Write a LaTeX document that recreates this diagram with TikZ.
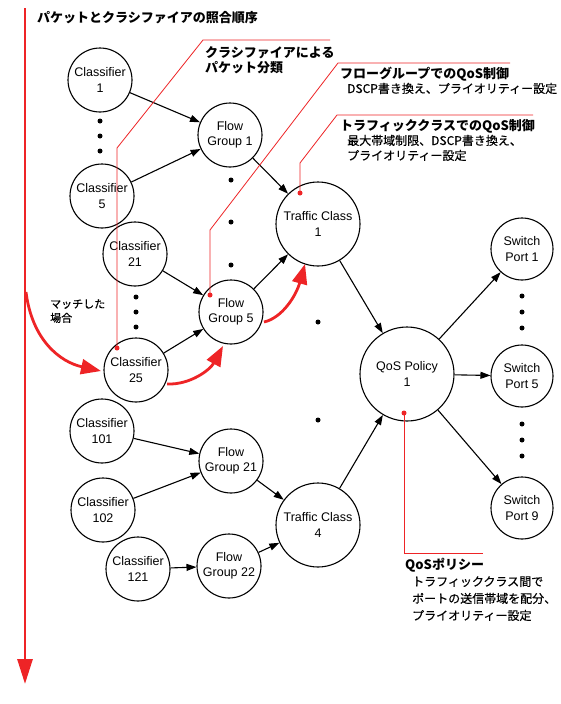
\documentclass[tikz,border=0pt]{standalone}
\usepackage{fontspec}
\setmainfont{Liberation Sans}
\newfontfamily\jp{Noto Sans CJK JP}
\newfontfamily\jpm[FakeBold=0.4]{Noto Sans CJK JP}
\usetikzlibrary{arrows.meta}
\definecolor{cred}{RGB}{238,36,38}
\begin{document}
\begin{tikzpicture}[x=1pt,y=-1pt,
  nd/.style={circle,draw,line width=1.1pt,minimum size=64pt,inner sep=0pt,align=center,font=\fontsize{12.5}{15.5}\selectfont},
  big/.style={nd,minimum size=84pt},
  edge/.style={line width=1.1pt,-{Triangle[length=10pt,width=7pt]}},
  dotc/.style={circle,fill,inner sep=0pt,minimum size=5pt},
  rdot/.style={circle,fill=cred,inner sep=0pt,minimum size=5pt},
  call/.style={cred,line width=0.8pt},
  fat/.style={cred,line width=2.8pt,-{Triangle[length=20pt,width=15pt]}},
  hd/.style={anchor=base west,inner sep=0pt,font=\jp\bfseries\fontsize{13}{16}\selectfont},
  sub/.style={anchor=base west,inner sep=0pt,font=\jpm\fontsize{12}{14}\selectfont},
]
\useasboundingbox (0,0) rectangle (561,704);
\fill[white] (0,0) rectangle (561,704);

% nodes
\node[nd] (c1) at (100,80) {Classifier\\1};
\node[nd] (c5) at (102,196) {Classifier\\5};
\node[nd] (c21) at (135,254) {Classifier\\21};
\node[nd] (c25) at (136,370) {Classifier\\25};
\node[nd] (c101) at (102,431) {Classifier\\101};
\node[nd] (c102) at (103,510) {Classifier\\102};
\node[nd] (c121) at (138,569) {Classifier\\121};
\node[nd] (fg1) at (230,135) {Flow\\Group 1};
\node[nd] (fg5) at (231,312) {Flow\\Group 5};
\node[nd] (fg21) at (231,461) {Flow\\Group 21};
\node[nd] (fg22) at (229,566) {Flow\\Group 22};
\node[big] (tc1) at (318,224) {Traffic Class\\1};
\node[big] (tc4) at (318,525) {Traffic Class\\4};
\node[nd,minimum size=94pt] (qos) at (407,374) {QoS Policy\\1};
\node[nd,minimum size=62pt] (sp1) at (522,249) {Switch\\Port 1};
\node[nd,minimum size=62pt] (sp5) at (522,376) {Switch\\Port 5};
\node[nd,minimum size=62pt] (sp9) at (522,508) {Switch\\Port 9};

% edges
\draw[edge] (c1) -- (fg1);
\draw[edge] (c5) -- (fg1);
\draw[edge] (c21) -- (fg5);
\draw[edge] (c25) -- (fg5);
\draw[edge] (fg1) -- (tc1);
\draw[edge] (fg5) -- (tc1);
\draw[edge] (tc1) -- (qos);
\draw[edge] (c101) -- (fg21);
\draw[edge] (c102) -- (fg21);
\draw[edge] (c121) -- (fg22);
\draw[edge] (fg21) -- (tc4);
\draw[edge] (fg22) -- (tc4);
\draw[edge] (tc4) -- (qos);
\draw[edge] (qos) -- (sp1);
\draw[edge] (qos) -- (sp5);
\draw[edge] (qos) -- (sp9);

% ellipsis dots
\foreach \n/\x/\y in {a1/100/121,a2/100/136,a3/100/151,
  b1/136/297,b2/136/312,b3/136/327,
  d1/231/180,d2/231/222,d3/231/265,
  e1/318/322,e2/318/420,
  f1/522/296,f2/522/312,f3/522/328,
  g1/522/424,g2/522/440,g3/522/456}
  \node[dotc] (dot\n) at (\x,\y) {};

% title and red timeline
\coordinate (vtop) at (25,8);
\coordinate (vbot) at (25,684);
\draw[cred,line width=2.8pt,-{Triangle[length=25pt,width=15pt]}] (vtop) -- (vbot);
\node[hd] (title) at (37,23) {パケットとクラシファイアの照合順序};

% match arrows
\coordinate (m0) at (26,292);
\coordinate (m1) at (101,371);
\draw[fat] (m0) .. controls (32,340) and (60,362) .. (m1);
\node[anchor=base west,inner sep=0pt,font=\jpm\fontsize{11}{14}\selectfont,align=left] (match) at (50,322) {マッチした\\場合};
\coordinate (r1s) at (167,384);
\coordinate (r1e) at (223,346);
\draw[fat] (r1s) .. controls (190,385) and (210,370) .. (r1e);
\coordinate (r2s) at (264,322);
\coordinate (r2e) at (305,264);
\draw[fat] (r2s) .. controls (282,318) and (296,296) .. (r2e);

% callout 1
\node[rdot] (p1) at (117,348) {};
\coordinate (p1a) at (117,148);
\coordinate (p1b) at (203,40);
\coordinate (p1c) at (330,40);
\draw[call] (p1.center) -- (p1a) -- (p1b) -- (p1c);
\node[hd] (t1a) at (205,57) {クラシファイアによる};
\node[hd] (t1b) at (205,72) {パケット分類};

% callout 2
\node[rdot] (p2) at (210,295) {};
\coordinate (p2a) at (210,230);
\coordinate (p2b) at (338,63);
\coordinate (p2c) at (510,63);
\draw[call] (p2.center) -- (p2a) -- (p2b) -- (p2c);
\node[hd] (t2a) at (340,78) {フローグループでのQoS制御};
\node[sub] (t2b) at (347,93) {DSCP書き換え、プライオリティー設定};

% callout 3
\node[rdot] (p3) at (300,193) {};
\coordinate (p3a) at (300,163);
\coordinate (p3b) at (337,115);
\coordinate (p3c) at (533,115);
\draw[call] (p3.center) -- (p3a) -- (p3b) -- (p3c);
\node[hd] (t3a) at (340,130) {トラフィッククラスでのQoS制御};
\node[sub] (t3b) at (347,145) {最大帯域制限、DSCP書き換え、};
\node[sub] (t3c) at (347,160) {プライオリティー設定};

% callout 4
\node[rdot] (p4) at (404,413) {};
\coordinate (p4a) at (404,553);
\coordinate (p4b) at (483,553);
\draw[call] (p4.center) -- (p4a) -- (p4b);
\node[hd] (t4a) at (405,569) {QoSポリシー};
\node[sub] (t4b) at (412,586) {トラフィッククラス間で};
\node[sub] (t4c) at (412,603) {ポートの送信帯域を配分、};
\node[sub] (t4d) at (412,620) {プライオリティー設定};
\end{tikzpicture}
\end{document}
